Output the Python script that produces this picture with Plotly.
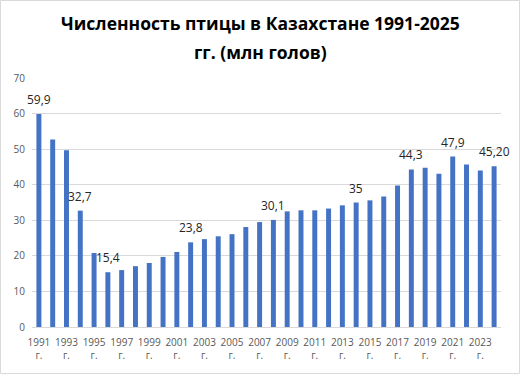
import plotly.graph_objects as go

years = [str(y) for y in range(1991, 2025)]
values = [59.9, 52.7, 49.7, 32.7, 20.8, 15.4, 16.0, 17.1, 18.0, 19.7,
          21.1, 23.8, 24.7, 25.5, 26.1, 28.1, 29.5, 30.1, 32.5, 32.8,
          32.8, 33.3, 34.2, 35.0, 35.6, 36.7, 39.8, 44.3, 44.8, 43.1,
          47.9, 45.7, 44.0, 45.2]
label_idx = [0, 3, 5, 11, 17, 23, 27, 30, 33]
label_txt = ["59,9", "32,7", "15,4", "23,8", "30,1", "35", "44,3", "47,9", "45,20"]
tick_years = years[::2]
tick_text = [y + "<br>г." for y in tick_years]
y_ticks = list(range(0, 71, 10))
title_lines = ["Численность птицы в Казахстане 1991-2025", "гг. (млн голов)"]

W, H = 520, 374
ml, mr, mt, mb = 32, 19, 78, 47
FONT = "Open Sans, Liberation Sans, sans-serif"

fig = go.Figure()
fig.add_trace(go.Bar(x=years, y=values, marker=dict(color="#4472C4", line=dict(width=0)),
                     hoverinfo="x+y"))

pw = W - ml - mr
ph = H - mt - mb

annotations = []
for i, t in zip(label_idx, label_txt):
    annotations.append(dict(x=i, y=values[i], text=t, showarrow=False,
                            xref="x", yref="y", yanchor="bottom", yshift=4,
                            font=dict(family=FONT, size=12, color="#262626")))
for line, cy in zip(title_lines, [23, 52]):
    annotations.append(dict(text="<b>" + line + "</b>",
                            xref="paper", yref="paper", x=(W / 2 - ml) / pw, y=1 + (mt - cy) / ph,
                            xanchor="center", yanchor="middle", showarrow=False,
                            font=dict(family=FONT, size=17.5, color="#000000")))

shapes = [dict(type="rect", xref="paper", yref="paper",
               x0=(0.5 - ml) / pw, x1=(W - 0.5 - ml) / pw,
               y0=-(H - 0.5 - mt - ph) / ph, y1=(mt - 0.5) / ph + 1,
               line=dict(color="#d9d9d9", width=1), fillcolor="rgba(0,0,0,0)", layer="below")]

fig.update_layout(
    width=W, height=H,
    margin=dict(l=ml, r=mr, t=mt, b=mb, autoexpand=False),
    paper_bgcolor="white", plot_bgcolor="white",
    bargap=0.64,
    showlegend=False,
    xaxis=dict(type="category", tickmode="array", tickvals=tick_years, ticktext=tick_text,
               range=[-0.5, len(years) - 0.5], automargin=False, ticklabelstandoff=6,
               tickangle=0, showgrid=False, showline=True, linecolor="#d9d9d9", linewidth=1,
               ticks="", tickfont=dict(family=FONT, size=10, color="#595959")),
    yaxis=dict(range=[0, 70], tickvals=y_ticks, showgrid=True, gridcolor="#d9d9d9", gridwidth=1,
               zeroline=False, showline=False, ticks="", automargin=False, ticklabelstandoff=6,
               tickfont=dict(family=FONT, size=10, color="#595959")),
    annotations=annotations,
    shapes=shapes,
)

fig.write_html("out.html", config={"displayModeBar": False},
               post_script="document.body.style.margin='0';document.body.style.overflow='hidden';")
